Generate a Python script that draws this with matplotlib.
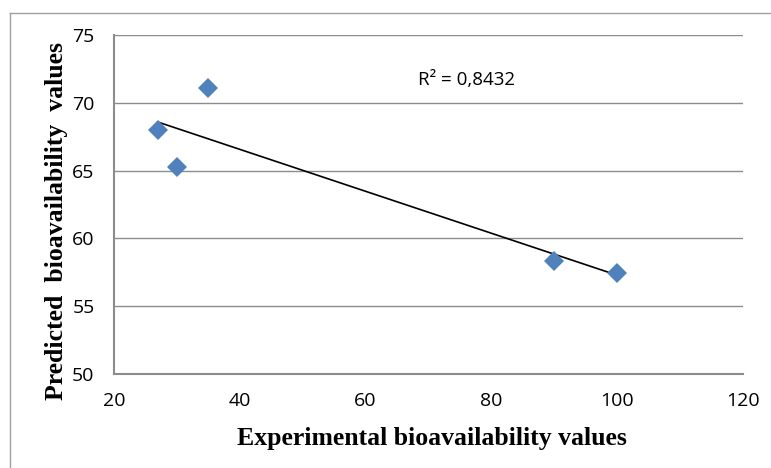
import numpy as np
import matplotlib
matplotlib.use('Agg')
import matplotlib.pyplot as plt
from matplotlib.lines import Line2D

# values
experimental = [27, 30, 35, 90, 100]
predicted = [68.0, 65.3, 71.1, 58.3, 57.45]
r2_label = 'R² = 0,8432'
x_ticks = [20, 40, 60, 80, 100, 120]
y_ticks = [50, 55, 60, 65, 70, 75]

fig = plt.figure(figsize=(7.71, 4.68), dpi=100)
W, H = 771, 468
ax = fig.add_axes([114 / W, 1 - 374 / H, (743 - 114) / W, (374 - 35) / H])

grid_col = '#8c8c8c'
for yv in y_ticks[1:]:
    ax.axhline(yv, color=grid_col, lw=1.0, zorder=0)

# linear trend line over the data range
slope, intercept = np.polyfit(experimental, predicted, 1)
xs = np.array([min(experimental), max(experimental)])
ax.plot(xs, slope * xs + intercept, color='black', lw=1.2, zorder=2)

ax.plot(experimental, predicted, linestyle='none', marker='D', ms=10,
        color='#4f81bd', markeredgewidth=0, zorder=3)

ax.set_xlim(20, 120)
ax.set_ylim(50, 75)
ax.set_xticks(x_ticks)
ax.set_yticks(y_ticks)
ax.tick_params(length=0, labelsize=14)
ax.tick_params(axis='x', pad=13)
ax.tick_params(axis='y', pad=14)
for lab in ax.get_xticklabels() + ax.get_yticklabels():
    lab.set_fontfamily('Open Sans')

for side in ['top', 'right']:
    ax.spines[side].set_visible(False)
for side in ['left', 'bottom']:
    ax.spines[side].set_color(grid_col)
    ax.spines[side].set_linewidth(1.5)

ax.text(68.3, 71.7, r2_label, fontsize=13.5, family='Open Sans', va='center', ha='left')

fig.text(432 / W, 1 - 438 / H, 'Experimental bioavailability values',
         family='Liberation Serif', weight='bold', fontsize=18.5, ha='center', va='center')
fig.text(57 / W, 1 - 221 / H, 'Predicted  bioavailability  values',
         family='Liberation Serif', weight='bold', fontsize=18.5, ha='center', va='center',
         rotation=90)

# outer chart border (top and left only visible)
fig.add_artist(Line2D([10 / W, 10 / W], [0, 1 - 13 / H], transform=fig.transFigure,
                      color='#a0a0a0', lw=1.0))
fig.add_artist(Line2D([10 / W, 1], [1 - 13 / H, 1 - 13 / H], transform=fig.transFigure,
                      color='#a0a0a0', lw=1.0))

plt.savefig('out.png', dpi=100)
